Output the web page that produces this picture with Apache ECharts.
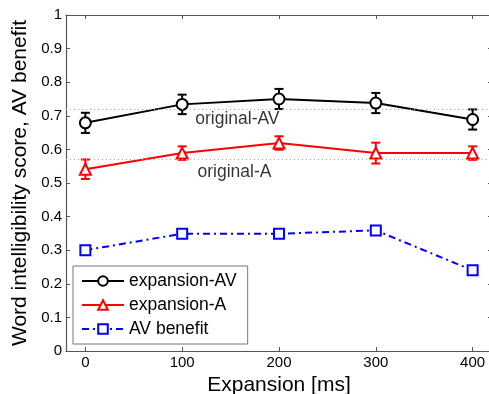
<!DOCTYPE html>
<html>
<head>
<meta charset="utf-8">
<script src="https://cdn.jsdelivr.net/npm/echarts@6/dist/echarts.min.js"></script>
<style>
html,body{margin:0;padding:0;background:#fff;}
#chart{width:489px;height:394px;}
</style>
</head>
<body>
<div id="chart"></div>
<script>
var expansions = [0, 100, 200, 300, 400];
var xTicks = [0, 100, 200, 300, 400];
var expAV = [0.679, 0.734, 0.750, 0.738, 0.689];
var expAVErr = [0.030, 0.029, 0.030, 0.030, 0.030];
var expA = [0.541, 0.589, 0.619, 0.589, 0.589];
var expAErr = [0.029, 0.020, 0.020, 0.031, 0.020];
var avBenefit = [0.300, 0.349, 0.349, 0.359, 0.240];
var originalAV = 0.723;
var originalA = 0.570;
var refLabels = [
  { name: 'original-AV', x: 157, y: 0.690 },
  { name: 'original-A', x: 154, y: 0.532 }
];

var FONT = 'Liberation Sans, Arial, Helvetica, sans-serif';

function pairs(xs, ys) { return xs.map(function (x, i) { return [x, ys[i]]; }); }
function errData(xs, ys, es) { return xs.map(function (x, i) { return [x, ys[i] - es[i], ys[i] + es[i]]; }); }

function errorSeries(data, color) {
  return {
    type: 'custom',
    data: data,
    z: 3,
    silent: true,
    renderItem: function (params, api) {
      var x = api.value(0);
      var lo = api.coord([x, api.value(1)]);
      var hi = api.coord([x, api.value(2)]);
      var cap = 4.5;
      var st = { stroke: color, lineWidth: 2 };
      return {
        type: 'group',
        children: [
          { type: 'line', shape: { x1: lo[0], y1: lo[1], x2: hi[0], y2: hi[1] }, style: st },
          { type: 'line', shape: { x1: lo[0] - cap, y1: lo[1], x2: lo[0] + cap, y2: lo[1] }, style: st },
          { type: 'line', shape: { x1: hi[0] - cap, y1: hi[1], x2: hi[0] + cap, y2: hi[1] }, style: st }
        ]
      };
    }
  };
}

var axisLineStyle = { color: '#555', width: 1.2 };

var option = {
  backgroundColor: '#fff',
  animation: false,
  grid: { left: 66, top: 15, right: -3, bottom: 43, show: false, containLabel: false, outerBoundsMode: 'none' },
  xAxis: [{
    type: 'value', min: -20, max: 420,
    axisLine: { show: true, onZero: false, lineStyle: axisLineStyle },
    axisTick: { show: true, inside: true, length: 4, customValues: xTicks, lineStyle: { color: '#555' } },
    axisLabel: { customValues: xTicks, color: '#000', fontSize: 15, fontFamily: FONT, margin: 4 },
    splitLine: { show: false },
    name: 'Expansion [ms]', nameLocation: 'middle', nameGap: 22,
    nameTextStyle: { fontSize: 21, color: '#000', fontFamily: FONT }
  }, {
    type: 'value', min: -20, max: 420, position: 'top',
    axisLine: { show: true, onZero: false, lineStyle: axisLineStyle },
    axisTick: { show: true, inside: true, length: 4, customValues: xTicks, lineStyle: { color: '#555' } },
    axisLabel: { show: false },
    splitLine: { show: false }
  }],
  yAxis: [{
    type: 'value', min: 0, max: 1, interval: 0.1,
    axisLine: { show: true, onZero: false, lineStyle: axisLineStyle },
    axisTick: { show: true, inside: true, length: 4, lineStyle: { color: '#555' } },
    axisLabel: { color: '#000', fontSize: 15, fontFamily: FONT, margin: 4 },
    splitLine: { show: false },
    name: 'Word intelligibility score, AV benefit', nameLocation: 'middle', nameGap: 31,
    nameTextStyle: { fontSize: 21, color: '#000', fontFamily: FONT }
  }, {
    type: 'value', min: 0, max: 1, interval: 0.1, position: 'right',
    axisLine: { show: true, onZero: false, lineStyle: axisLineStyle },
    axisTick: { show: true, inside: true, length: 4, lineStyle: { color: '#555' } },
    axisLabel: { show: false },
    splitLine: { show: false }
  }],
  legend: {
    data: ['expansion-AV', 'expansion-A', 'AV benefit'],
    orient: 'vertical',
    left: 73, top: 266,
    padding: [6, 11, 6, 8],
    itemWidth: 42, itemHeight: 12, itemGap: 6,
    backgroundColor: '#fff',
    borderColor: '#777', borderWidth: 1, borderRadius: 0,
    textStyle: { fontSize: 17.5, color: '#000', fontFamily: FONT }
  },
  series: [
    {
      name: 'ref', type: 'line', data: [], silent: true,
      markLine: {
        silent: true, symbol: 'none', label: { show: false },
        lineStyle: { color: '#aaa', type: [1, 3], width: 1 },
        data: [{ yAxis: originalAV }, { yAxis: originalA }]
      }
    },
    {
      name: 'labels', type: 'scatter', symbolSize: 0, silent: true,
      data: refLabels.map(function (d) { return { name: d.name, value: [d.x, d.y] }; }),
      label: {
        show: true, position: 'inside', formatter: '{b}',
        fontSize: 17.5, color: '#000', fontFamily: FONT
      }
    },
    errorSeries(errData(expansions, expAV, expAVErr), '#000'),
    errorSeries(errData(expansions, expA, expAErr), '#ff0000'),
    {
      name: 'expansion-AV', type: 'line', data: pairs(expansions, expAV), z: 4,
      symbol: 'emptyCircle', symbolSize: 11, showAllSymbol: true,
      lineStyle: { color: '#000', width: 2 },
      itemStyle: { color: '#000', borderColor: '#000', borderWidth: 2 }
    },
    {
      name: 'expansion-A', type: 'line', data: pairs(expansions, expA), z: 4,
      symbol: 'emptyTriangle', symbolSize: 11,
      lineStyle: { color: '#ff0000', width: 2 },
      itemStyle: { color: '#ff0000', borderColor: '#ff0000', borderWidth: 2 }
    },
    {
      name: 'AV benefit', type: 'line', data: pairs(expansions, avBenefit), z: 4,
      symbol: 'emptyRect', symbolSize: 10,
      lineStyle: { color: '#0000ff', width: 2, type: [7, 4, 2, 4] },
      itemStyle: { color: '#0000ff', borderColor: '#0000ff', borderWidth: 2 }
    }
  ]
};

var chart = echarts.init(document.getElementById('chart'), null, { renderer: 'canvas' });
chart.setOption(option);
</script>
</body>
</html>
